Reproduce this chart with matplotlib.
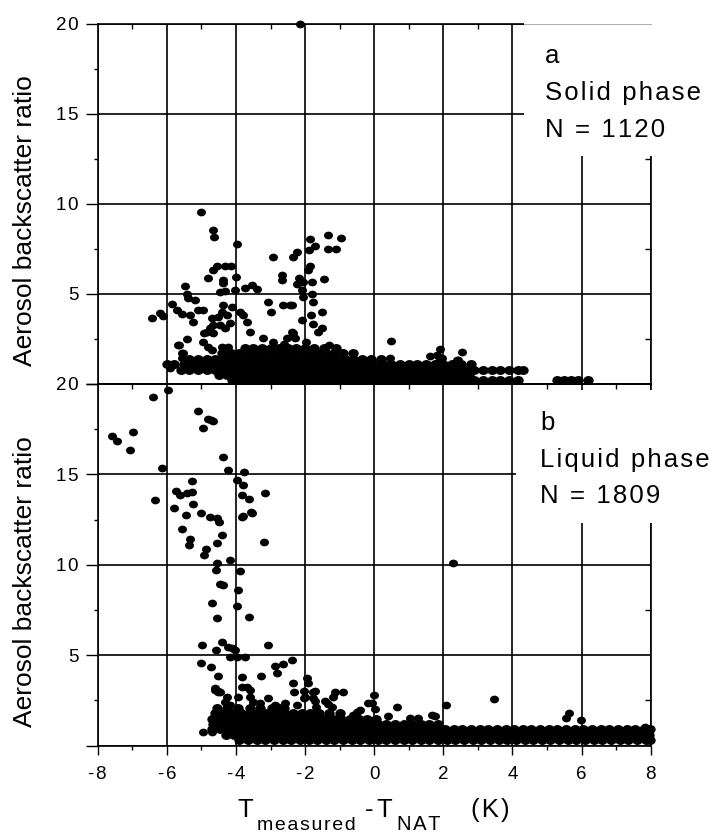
"""Aerosol backscatter ratio vs T - T_NAT, solid (a) and liquid (b) phase panels."""

import matplotlib

matplotlib.use("Agg")
import matplotlib.pyplot as plt
from matplotlib.patches import Rectangle
from matplotlib.path import Path
from matplotlib.ticker import MultipleLocator
from matplotlib.transforms import Affine2D

plt.rcParams["font.family"] = ["Liberation Sans", "DejaVu Sans"]

W_PX, H_PX = 717, 834

# ---- panel a: solid phase ----
SOLID_X = [
    -2.15, -5.0, -4.65, -4.63, -3.98, -2.92, -4.54, -4.32, -4.14, -4.65, -4.80,
    -4.37, -4.37, -4.0, -5.47, -3.74, -3.54, -3.40, -2.68, -2.68, -4.46, -4.32,
    -4.03, -5.42, -5.38, -5.18, -5.86, -5.71, -5.57, -5.33, -5.25, -6.44, -6.2,
    -6.12, -4.94, -4.37, -4.12, -4.41, -3.06, -2.99, -2.44, -3.88, -3.79, -4.70,
    -4.51, -4.27, -4.17, -4.65, -4.46, -4.32, -4.85, -5.42, -4.94, -5.67, -4.8,
    -4.70, -4.41, -4.22, -5.52, -5.57, -5.86, -5.91, -3.69, -3.59, -3.21, -2.92,
    -2.53, -2.34, -1.35, -0.97, -1.86, -1.71, -1.89, -1.34, -1.11, -2.24, -2.34,
    -1.86, -1.91, -2.17, -2.24, -2.05, -1.81, -1.44, -2.10, -2.05, -2.39, -1.76,
    -1.50, -1.84, -2.08, -1.76, -1.52, -1.62, -2.39, -2.29, -1.98, -1.8, -5.09,
    -4.92, -4.75, -4.65, -5.65, -5.57, -5.42, -5.81, -2.63,
    0.49, 0.46, 1.90, 2.53, 1.62, 1.81, 1.95, 2.39, 1.86, 2.43, -2.6, -1.3,
]
SOLID_Y = [
    20.0, 9.54, 8.55, 8.18, 7.76, 7.04, 6.57, 6.57, 6.57, 6.33, 5.91,
    5.78, 5.61, 5.96, 5.46, 5.35, 5.5, 5.28, 6.06, 5.78, 5.13, 5.17,
    5.22, 5.0, 4.8, 4.67, 4.43, 4.11, 3.89, 3.83, 3.46, 3.65, 3.93,
    3.8, 4.11, 4.39, 4.29, 4.02, 4.57, 4.02, 4.39, 4.02, 3.83, 3.65,
    3.74, 3.83, 3.37, 3.28, 3.28, 3.09, 2.9, 2.5, 2.35, 2.17, 2.07,
    1.89, 2.07, 2.07, 1.7, 1.43, 1.06, 0.87, 3.46, 2.9, 2.54, 2.35,
    2.54, 2.81, 8.28, 8.09, 8.04, 7.67, 7.44, 7.5, 7.5, 7.35, 7.07,
    6.56, 6.33, 5.91, 5.54, 5.68, 5.68, 5.83, 5.22, 4.85, 4.39, 4.57,
    3.98, 3.83, 3.56, 3.32, 3.13, 2.91, 2.91, 2.54, 2.35, 5.0, 4.11,
    2.83, 3.1, 2.83, 2.17, 1.70, 1.33, 1.06, 4.39,
    2.41, 1.43, 1.94, 1.8, 1.57, 1.61, 1.43, 1.33, 1.24, 1.33, 2.25, 2.15,
]
# dense band: backscatter level -> temperatures
SOLID_BAND = {
    0.2: [-4.1, -3.85, -3.6, -3.35, -3.1, -2.85, -2.6, -2.35, -2.1, -1.85, -1.6,
          -1.35, -1.1, -0.85, -0.6, -0.35, -0.1, 0.15, 0.4, 0.65, 0.9, 1.15, 1.4,
          1.65, 1.9, 2.15, 2.4, 2.65, 2.9, 3.15, 3.4, 3.65, 3.9, 4.15,
          5.3, 5.5, 5.7, 5.9, 6.18],
    0.5: [-4.5, -4.25, -4.0, -3.75, -3.5, -3.25, -3.0, -2.75, -2.5, -2.25, -2.0,
          -1.75, -1.5, -1.25, -1.0, -0.75, -0.5, -0.25, 0.0, 0.25, 0.5, 0.75, 1.0,
          1.25, 1.5, 1.75, 2.0, 2.25, 2.5, 2.75],
    0.8: [-5.6, -5.35, -5.1, -4.85, -4.6, -4.35, -4.1, -3.85, -3.6, -3.35, -3.1,
          -2.85, -2.6, -2.35, -2.1, -1.85, -1.6, -1.35, -1.1, -0.85, -0.6, -0.35,
          -0.1, 0.15, 0.4, 0.65, 0.9, 1.15, 1.4, 1.65, 1.9, 2.15, 2.4, 2.65, 2.9,
          3.15, 3.4, 3.65, 3.9, 4.15, 4.3],
    1.1: [-6.0, -5.8, -5.5, -5.25, -5.0, -4.75, -4.5, -4.25, -4.0, -3.75, -3.5,
          -3.25, -3.0, -2.75, -2.5, -2.25, -2.0, -1.75, -1.5, -1.25, -1.0, -0.75,
          -0.5, -0.25, 0.0, 0.25, 0.5, 0.75, 1.0, 1.25, 1.5, 1.75, 2.0, 2.25, 2.5, 2.8],
    1.4: [-5.35, -5.1, -4.85, -4.6, -4.35, -4.1, -3.85, -3.6, -3.35, -3.1, -2.85,
          -2.6, -2.35, -2.1, -1.85, -1.6, -1.35, -1.1, -0.85, -0.6, -0.35, -0.1, 0.2],
    1.7: [-4.4, -4.15, -3.9, -3.65, -3.4, -3.15, -2.9, -2.65, -2.4, -2.15, -1.9,
          -1.65, -1.4, -1.15, -0.9, -0.6],
    2.0: [-3.75, -3.5, -3.25, -3.0, -2.75, -2.5, -2.25, -2.0, -1.75, -1.45, -1.1],
}

# ---- panel b: liquid phase ----
LIQUID_X = [
    -7.6, -7.43, -7.07, -6.99, -6.39, -5.97, -6.15, -6.34, -5.09, -4.96, -4.80,
    -4.73, -4.65, -4.38, -4.24, -3.98, -3.77, -3.79, -3.83, -3.83, -3.79, -3.61,
    -3.57, -3.54, -3.15, -3.19, -5.74, -5.62, -5.42, -5.26, -5.28, -5.79, -5.45,
    -5.23, -5.57, -5.33, -5.35, -5.01, -4.75, -4.56, -4.49, -4.87, -4.92, -4.41,
    -4.54, -4.17, -4.56, -4.59, -3.88, -4.46, -4.37, -3.93, -4.68, -3.98, -4.54,
    -3.61, -4.99, -3.06, -4.39, -4.58, -4.22, -4.12, -4.03, -4.17, -3.98, -3.74,
    -5.01, -4.72, -4.51, -2.87, -2.63, -2.39, -2.82, -3.28, -3.83, -4.6, -4.52,
    -4.45, -2.34, -1.95, -1.91, -2.03, -1.71, -2.03, -1.76, -1.13, -0.91, -1.18,
    -1.42, -1.33, -1.23, -1.67, 0.0, -0.07, -0.19, 0.02, -0.41, -0.6, -0.51,
    0.65, 0.41, 1.04, 1.28, 1.66, 1.76, 2.08, 3.47, 5.65, 5.55, 5.98, 7.84,
    7.89, 2.27, -4.61, -4.51, -4.27, -4.32, -4.17, -3.93, -3.83, -3.69, -3.59,
    -3.59, -3.50, -3.30, -3.06, -2.87, -2.77, -2.58, -2.32, -2.0, -1.76, -1.71,
    -2.24, -4.94, -4.70, -4.46,
]
LIQUID_Y = [
    17.15, 16.87, 16.35, 17.37, 19.3, 19.67, 15.38, 13.59, 18.51, 17.55, 18.07,
    18.01, 17.98, 15.95, 15.25, 14.7, 15.12, 14.42, 13.87, 12.67, 12.7, 13.64,
    12.94, 12.89, 13.96, 11.25, 14.09, 13.87, 13.96, 14.02, 14.66, 13.13, 12.76,
    13.37, 11.97, 11.42, 11.1, 12.85, 12.67, 12.58, 12.39, 10.88, 10.55, 11.64,
    11.23, 10.27, 10.12, 9.72, 9.68, 8.94, 8.89, 8.61, 7.91, 7.73, 7.05,
    7.1, 5.57, 5.57, 5.75, 5.29, 5.48, 5.39, 5.29, 4.92, 4.92, 4.92,
    4.59, 4.34, 3.86, 4.41, 4.52, 4.74, 4.0, 3.87, 3.82, 3.08, 3.03,
    2.98, 3.45, 3.73, 3.45, 3.03, 3.03, 2.62, 2.62, 2.99, 2.95, 2.71,
    2.49, 2.31, 2.16, 2.16, 2.8, 2.35, 2.38, 2.01, 1.97, 1.7, 1.88,
    2.16, 1.64, 1.55, 1.52, 1.7, 1.64, 2.25, 2.58, 1.79, 1.55, 1.42, 1.05,
    0.91, 10.12, 3.17, 2.99, 2.71, 2.43, 2.25, 2.71, 3.26, 3.26, 3.08,
    2.71, 2.43, 2.35, 2.62, 2.25, 2.16, 2.35, 2.99, 2.71, 2.99, 2.49,
    2.25, 0.77, 0.77, 0.9,
]
LIQUID_BAND = {
    0.3: [-3.9, -3.65, -3.4, -3.15, -2.9, -2.65, -2.4, -2.15, -1.9, -1.65, -1.4,
          -1.15, -0.9, -0.65, -0.4, -0.15, 0.1, 0.35, 0.6, 0.85, 1.1, 1.35, 1.6,
          1.85, 2.1, 2.35, 2.6, 2.85, 3.1, 3.35, 3.6, 3.85, 4.1, 4.35, 4.6, 4.85,
          5.1, 5.35, 5.6, 5.85, 6.1, 6.35, 6.6, 6.85, 7.1, 7.35, 7.6, 7.85, 7.97],
    0.6: [-4.3, -4.05, -3.8, -3.55, -3.3, -3.05, -2.8, -2.55, -2.3, -2.05, -1.8,
          -1.55, -1.3, -1.05, -0.8, -0.55, -0.3, -0.05, 0.2, 0.45, 0.7, 0.95, 1.2,
          1.45, 1.7, 1.95, 2.2, 2.45, 2.7, 2.95, 3.2, 3.45, 3.7, 3.95, 4.2, 4.45,
          4.7, 4.95, 5.2, 5.45, 5.7, 5.95, 6.2, 6.45, 6.7, 6.95, 7.2, 7.45, 7.7, 7.95],
    0.9: [-4.7, -4.45, -4.2, -3.95, -3.7, -3.45, -3.2, -2.95, -2.7, -2.45, -2.2,
          -1.95, -1.7, -1.45, -1.2, -0.95, -0.7, -0.45, -0.2, 0.05, 0.3, 0.55, 0.8,
          1.05, 1.3, 1.55, 1.8, 2.05, 2.3, 2.55, 2.8, 3.05, 3.3, 3.55, 3.8, 4.05,
          4.3, 4.55, 4.8, 5.05, 5.3, 5.55, 5.8, 6.05, 6.3, 6.55, 6.8, 7.05, 7.3,
          7.55, 7.8, 7.97],
    1.2: [-4.65, -4.4, -4.15, -3.9, -3.65, -3.4, -3.15, -2.9, -2.65, -2.4, -2.15,
          -1.9, -1.65, -1.4, -1.15, -0.9, -0.65, -0.4, -0.15, 0.1, 0.35, 0.6, 0.85,
          1.1, 1.35, 1.6, 1.85],
    1.5: [-4.7, -4.45, -4.2, -3.95, -3.7, -3.45, -3.2, -2.95, -2.7, -2.45, -2.2,
          -1.95, -1.7, -1.45, -1.2, -0.95, -0.7, -0.45, -0.2, 0.05],
    1.8: [-4.6, -4.35, -4.1, -3.85, -3.6, -3.35, -3.1, -2.85, -2.6, -2.35, -2.1,
          -1.85, -1.6, -1.3, -1.0],
    2.1: [-4.55, -4.25, -3.95, -3.6, -3.3, -2.95, -2.6],
}

X_TICKS = [-8, -6, -4, -2, 0, 2, 4, 6, 8]
Y_TICKS = [0, 5, 10, 15, 20]
Y_TICK_LABELS = ["", "5", "10", "15", "20"]
LABEL_A = ["a", "Solid phase", "N = 1120"]
LABEL_B = ["b", "Liquid phase", "N = 1809"]

# slightly flattened dot, like the original plotting package
DOT = Path.unit_circle().transformed(Affine2D().scale(1.0, 0.86))


def spaced(s):
    # the original text has loose tracking
    return "\u200a".join(s)


def unpack_band(band):
    xs, ys = [], []
    for level, temps in band.items():
        xs += temps
        ys += [level] * len(temps)
    return xs, ys


def panel(fig, rect, xs, ys, band, lines, box, text_xy, bottom):
    ax = fig.add_axes(rect, facecolor="none")
    bx, by = unpack_band(band)
    ax.scatter(bx, by, s=56, marker=DOT, color="black", linewidths=0,
               zorder=3, clip_on=False)
    ax.scatter(xs, ys, s=42, marker=DOT, color="black", linewidths=0,
               zorder=3, clip_on=False)
    ax.set_xlim(-8, 8)
    ax.set_ylim(0, 20)
    ax.set_xticks(X_TICKS)
    ax.xaxis.set_minor_locator(MultipleLocator(1))
    ax.set_yticks(Y_TICKS, [spaced(t) for t in Y_TICK_LABELS])
    ax.yaxis.set_minor_locator(MultipleLocator(2.5))
    ax.grid(which="major", color="black", lw=1.2)
    for sp in ax.spines.values():
        sp.set_linewidth(1.2)
    ax.tick_params(axis="y", which="major", direction="out", length=8.6, width=1.0,
                   pad=5, labelsize=13.5)
    ax.tick_params(axis="y", which="minor", direction="out", length=3, width=1.0)
    if bottom:
        ax.set_xticks(X_TICKS, [spaced(str(v)) for v in X_TICKS])
        ax.tick_params(axis="x", which="major", direction="out", length=6.5, width=1.0,
                       pad=8, labelsize=13.5)
        ax.tick_params(axis="x", which="minor", direction="out", length=3, width=1.0)
    else:
        ax.tick_params(axis="x", which="both", bottom=False, labelbottom=False)
    ax.set_ylabel("Aerosol backscatter ratio", fontsize=19, va="center")
    ax.yaxis.set_label_coords(-0.132, 0.455)

    # overlay for the inward top/right ticks and the white label box
    ov = fig.add_axes(rect, facecolor="none")
    ov.set_xlim(-8, 8)
    ov.set_ylim(0, 20)
    for sp in ov.spines.values():
        sp.set_visible(False)
    ov.xaxis.set_minor_locator(MultipleLocator(1))
    ov.yaxis.set_minor_locator(MultipleLocator(2.5))
    ov.set_xticks(X_TICKS)
    ov.set_yticks(Y_TICKS)
    ov.tick_params(which="major", length=0, labelleft=False, labelbottom=False)
    ov.tick_params(which="minor", direction="in", left=False, bottom=False,
                   top=True, right=True, width=1.0)
    ov.tick_params(axis="x", which="minor", length=3.6)
    ov.tick_params(axis="y", which="minor", length=4.3)
    x0, y0, y1 = box
    ov.add_patch(Rectangle((x0, y0), 8.4 - x0, y1 - y0, facecolor="white",
                           edgecolor="none", zorder=2.6, clip_on=False))
    if y1 > 20:
        ov.plot([x0, 8], [20, 20], color="#a0a0a0", lw=0.6, zorder=2.7, clip_on=False)
    tx, tys = text_xy
    for line, ty in zip(lines, tys):
        ov.text(tx, ty, spaced(line), fontsize=18.5, va="baseline", ha="left", zorder=5)
    return ax


fig = plt.figure(figsize=(W_PX / 100, H_PX / 100), dpi=100)
left, width = 97.7 / W_PX, 553 / W_PX
panel(fig, [left, 1 - 384 / H_PX, width, 360 / H_PX], SOLID_X, SOLID_Y, SOLID_BAND,
      LABEL_A, (4.33, 12.65, 20.4), (4.94, [17.83, 15.78, 13.72]), bottom=False)
panel(fig, [left, 1 - 745.7 / H_PX, width, 361.7 / H_PX], LIQUID_X, LIQUID_Y,
      LIQUID_BAND, LABEL_B, (4.1, 12.3, 19.68), (4.80, [17.46, 15.43, 13.41]),
      bottom=True)


def ftext(x, y, s, size):
    fig.text(x / W_PX, 1 - y / H_PX, spaced(s), fontsize=size, ha="left", va="baseline")


# x axis title: T_measured - T_NAT (K), built from pieces
ftext(237, 817, "T", 18.5)
ftext(257, 830, "measured", 14)
ftext(365, 817, "-", 18.5)
ftext(376, 817, "T", 18.5)
ftext(397, 830, "NAT", 14.5)
ftext(471, 817, "(K)", 18.5)

fig.savefig("out.png", dpi=100)
